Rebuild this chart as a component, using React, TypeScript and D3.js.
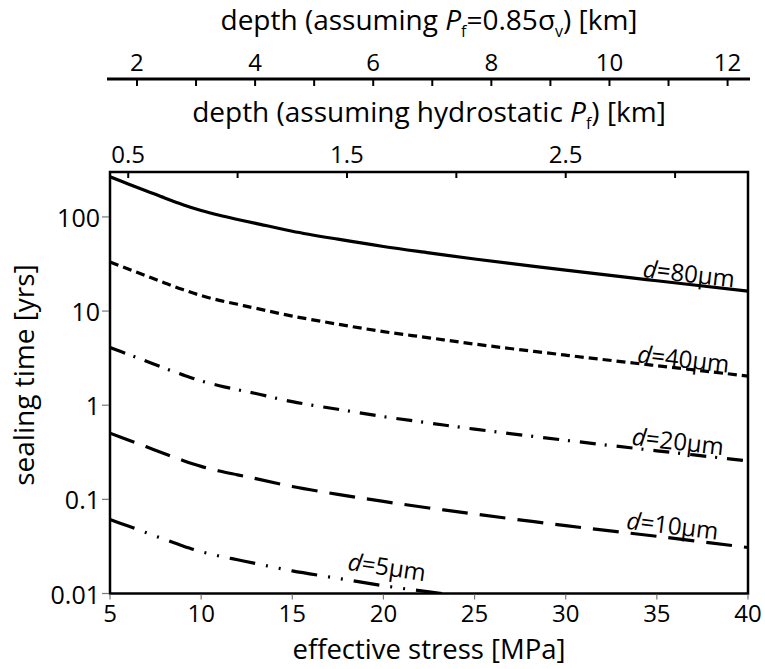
import React, { useEffect } from 'react';
import * as d3 from 'd3';

// effective stress [MPa]
const stress = [5, 6, 7, 8, 9, 10, 11, 12, 13, 15, 17.5, 20, 22.5, 25, 30, 35, 40];
// sealing time [yrs] for each grain size
const t80 = [267, 224, 189, 159, 135, 117, 104, 94, 85.5, 70.5, 58, 48.5, 41.5, 35.7, 27.2, 21, 16.3];
const t40 = [33.2, 28, 23.6, 19.9, 16.9, 14.6, 13, 11.8, 10.7, 8.85, 7.25, 6.05, 5.2, 4.46, 3.4, 2.63, 2.04];
const t20 = [4.1, 3.47, 2.93, 2.47, 2.1, 1.81, 1.61, 1.46, 1.33, 1.09, 0.905, 0.757, 0.647, 0.557, 0.424, 0.328, 0.256];
const t10 = [0.505, 0.427, 0.361, 0.305, 0.259, 0.224, 0.2, 0.182, 0.166, 0.137, 0.113, 0.095, 0.081, 0.07, 0.0525, 0.0405, 0.0308];
const t5 = [0.061, 0.052, 0.0442, 0.0375, 0.032, 0.0278, 0.025, 0.0228, 0.0208, 0.0174, 0.0145, 0.0121, 0.0104, 0.009, 0.0068, 0.0052, 0.004];
const grainSizes = ['80', '40', '20', '10', '5'];

const xTicks = [5, 10, 15, 20, 25, 30, 35, 40];
const yTicks = [0.01, 0.1, 1, 10, 100];
const yTickLabels = ['0.01', '0.1', '1', '10', '100'];
// depth axes
const hydroGradient = 12; // MPa per km (hydrostatic Pf)
const depthGradient = 3.24; // MPa per km (Pf = 0.85 sigma_v)
const hydroTicks = [0.5, 1, 1.5, 2, 2.5, 3];
const hydroLabels = ['0.5', '', '1.5', '', '2.5', ''];
const depthTicks = [2, 3, 4, 5, 6, 7, 8, 9, 10, 11, 12];
const depthLabels = ['2', '', '4', '', '6', '', '8', '', '10', '', '12'];

const W = 765;
const H = 669;
const L = 110, R = 748, T = 172, B = 593.5;
const FONT = "'Open Sans', 'Noto Sans', sans-serif";

const x = d3.scaleLinear().domain([5, 40]).range([L, R]);
const y = d3.scaleLog().domain([0.01, 300]).range([B, T]);
const xH = d3.scaleLinear().domain([5 / hydroGradient, 40 / hydroGradient]).range([L, R]);
const xD = d3.scaleLinear().domain([5 / depthGradient, 40 / depthGradient]).range([L, R]);

const seriesValues = [t80, t40, t20, t10, t5];
const styles = [
  { dash: null, lab: 34.2, off: -2 },
  { dash: '9,5', lab: 33.9, off: -1 },
  { dash: '16,9,2,10', lab: 33.6, off: -3 },
  { dash: '26,12', lab: 33.3, off: -4 },
  { dash: '26,11,2,11,2,11', lab: 18.0, off: -10 },
];

function valueAt(vals: number[], s: number) {
  const i = Math.min(Math.max(d3.bisectRight(stress, s) - 1, 0), stress.length - 2);
  const f = (s - stress[i]) / (stress[i + 1] - stress[i]);
  return Math.exp(Math.log(vals[i]) * (1 - f) + Math.log(vals[i + 1]) * f);
}

export default function App() {
  useEffect(() => {
    document.body.style.margin = '0';
  }, []);
  const line = d3
    .line<number>()
    .x((_, i) => x(stress[i]))
    .y((v) => y(v))
    .curve(d3.curveCatmullRom.alpha(0.5));

  return (
    <svg width={W} height={H} style={{ display: 'block', background: '#fff' }} fontFamily={FONT}>
      <defs>
        <clipPath id="plot">
          <rect x={L} y={T} width={R - L} height={B - T} />
        </clipPath>
      </defs>

      {/* top depth axis (Pf = 0.85 sigma_v) */}
      <text x={(L + R) / 2} y={30} fontSize={28} textAnchor="middle">
        depth (assuming <tspan fontStyle="italic">P</tspan>
        <tspan fontSize={16} dy={7}>f</tspan>
        <tspan dy={-7}>=0.85σ</tspan>
        <tspan fontSize={16} dy={7}>v</tspan>
        <tspan dy={-7}>) [km]</tspan>
      </text>
      <line x1={107} x2={750} y1={79} y2={79} stroke="#000" strokeWidth={3} />
      {depthTicks.map((d, i) => (
        <g key={'d' + d}>
          <line x1={xD(d)} x2={xD(d)} y1={79} y2={86} stroke="#000" strokeWidth={2} />
          {depthLabels[i] && (
            <text x={xD(d)} y={71} fontSize={24} textAnchor="middle">
              {depthLabels[i]}
            </text>
          )}
        </g>
      ))}

      {/* hydrostatic depth axis */}
      <text x={(L + R) / 2} y={122} fontSize={28} textAnchor="middle">
        depth (assuming hydrostatic <tspan fontStyle="italic">P</tspan>
        <tspan fontSize={16} dy={7}>f</tspan>
        <tspan dy={-7}>) [km]</tspan>
      </text>
      {hydroTicks.map((d, i) => (
        <g key={'h' + d}>
          <line x1={xH(d)} x2={xH(d)} y1={T} y2={T + 6} stroke="#000" strokeWidth={2} />
          {hydroLabels[i] && (
            <text x={xH(d)} y={163} fontSize={24} textAnchor="middle">
              {hydroLabels[i]}
            </text>
          )}
        </g>
      ))}

      {/* curves */}
      <g clipPath="url(#plot)">
        {seriesValues.map((vals, k) => (
          <path
            key={'c' + k}
            d={line(vals) || ''}
            fill="none"
            stroke="#000"
            strokeWidth={3.2}
            strokeDasharray={styles[k].dash || undefined}
          />
        ))}
      </g>

      {/* curve labels */}
      {seriesValues.map((vals, k) => {
        const s0 = styles[k].lab;
        const s1 = s0 + 5;
        const x0 = x(s0), y0 = y(valueAt(vals, s0));
        const x1 = x(s1), y1 = y(valueAt(vals, s1));
        const ang = (Math.atan2(y1 - y0, x1 - x0) * 180) / Math.PI;
        const by = y0 + styles[k].off;
        return (
          <text
            key={'l' + k}
            x={x0}
            y={by}
            fontSize={24}
            transform={`rotate(${ang.toFixed(2)},${x0},${by})`}
          >
            <tspan fontStyle="italic">d</tspan>={grainSizes[k]}μm
          </text>
        );
      })}

      {/* frame */}
      <rect x={L} y={T} width={R - L} height={B - T} fill="none" stroke="#000" strokeWidth={2.5} />

      {/* bottom axis */}
      {xTicks.map((t) => (
        <g key={'x' + t}>
          <line x1={x(t)} x2={x(t)} y1={B + 1} y2={B + 6} stroke="#777" strokeWidth={1.2} />
          <text x={x(t)} y={622} fontSize={24} textAnchor="middle">
            {t}
          </text>
        </g>
      ))}
      <text x={(L + R) / 2} y={659} fontSize={27.5} textAnchor="middle">
        effective stress [MPa]
      </text>

      {/* left axis */}
      {yTicks.map((t, i) => (
        <g key={'y' + t}>
          <line x1={L - 8} x2={L - 1} y1={y(t)} y2={y(t)} stroke="#777" strokeWidth={1.2} />
          <text x={100} y={y(t)} fontSize={25} textAnchor="end" dominantBaseline="central">
            {yTickLabels[i]}
          </text>
        </g>
      ))}
      <text
        x={33.5}
        y={375}
        fontSize={28}
        textAnchor="middle"
        transform="rotate(-90,33.5,375)"
      >
        sealing time [yrs]
      </text>
    </svg>
  );
}
